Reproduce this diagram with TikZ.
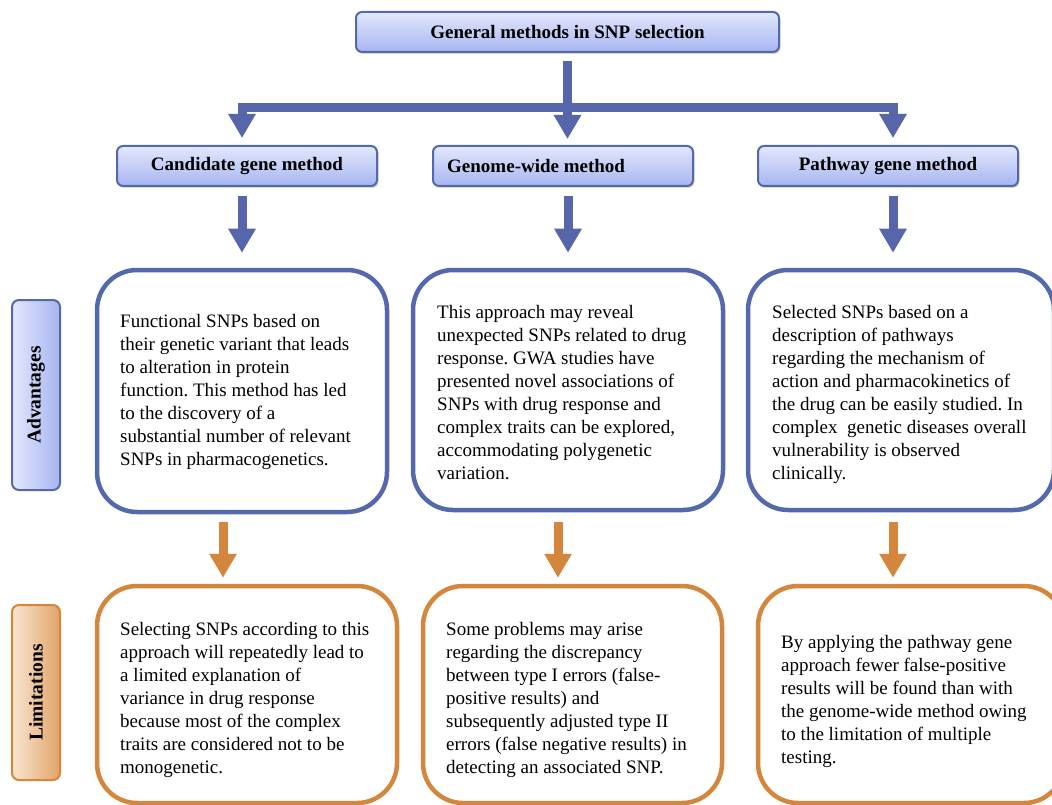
\documentclass[tikz,border=0pt]{standalone}
\usepackage{fontspec}
\setmainfont{Liberation Serif}
\usetikzlibrary{arrows.meta,shadows,calc}
\definecolor{bstroke}{HTML}{5468AE}
\definecolor{barrowc}{HTML}{5766AA}
\definecolor{btop}{HTML}{E3E8FD}
\definecolor{bbot}{HTML}{A7B5F0}
\definecolor{ostroke}{HTML}{D4873C}
\definecolor{oleft}{HTML}{FAE6D2}
\definecolor{oright}{HTML}{E0A367}
\frenchspacing
\begin{document}
\begin{tikzpicture}[x=1pt,y=1pt,
  mbox/.style={draw=bstroke, line width=2, rounded corners=6, top color=btop, bottom color=bbot,
    minimum height=40, inner sep=0, font=\fontsize{19}{23}\selectfont\bfseries,
    drop shadow={shadow xshift=1.5pt, shadow yshift=-2pt, opacity=0.3}},
  advbox/.style={draw=bstroke, line width=4.5, rounded corners=40, fill=white, inner sep=0},
  limbox/.style={draw=ostroke, line width=4.5, rounded corners=40, fill=white, inner sep=0},
  sidebox/.style={line width=2, rounded corners=7, minimum width=48, inner sep=0},
  sidelabel/.style={rotate=90, inner sep=0, font=\fontsize{19.5}{23}\selectfont\bfseries},
  body/.style={anchor=north west, inner sep=0, align=left, font=\fontsize{19}{23.1}\selectfont\frenchspacing},
  barrow/.style={draw=barrowc, line width=9, line join=miter, -{Triangle[width=26pt,length=24pt]}},
  oarrow/.style={draw=ostroke, line width=9, -{Triangle[width=26pt,length=24pt]}},
]
\useasboundingbox (0,0) rectangle (1052,-805);
\clip (0,0) rectangle (1052,-805);
\fill[white] (0,0) rectangle (1052,-805);

% method boxes
\node[mbox, minimum width=423] (title) at (567.5,-32) {General methods in SNP selection};
\node[mbox, minimum width=260] (cand) at (247,-166) {Candidate gene method};
\node[mbox, minimum width=260] (gen) at (563,-166) {};
\node[anchor=west, inner sep=0, font=\fontsize{19}{23}\selectfont\bfseries] (gentext) at (447,-166) {Genome-wide method};
\node[mbox, minimum width=260] (path) at (888,-166) {Pathway gene method};

% advantage boxes
\node[advbox, minimum width=290, minimum height=242] (adv1) at (242,-391) {};
\node[advbox, minimum width=310, minimum height=240] (adv2) at (568,-390) {};
\node[advbox, minimum width=306, minimum height=240] (adv3) at (901,-390) {};

% limitation boxes
\node[limbox, minimum width=300, minimum height=217] (lim1) at (247,-694.5) {};
\node[limbox, minimum width=299, minimum height=217] (lim2) at (572.5,-694.5) {};
\node[limbox, minimum width=306, minimum height=217] (lim3) at (911,-694.5) {};

% side labels
\node[sidebox, draw=bstroke, left color=btop, right color=bbot, minimum height=190] (advside) at (36,-395) {};
\node[sidelabel] (advlbl) at (advside) {Advantages};
\node[sidebox, draw=ostroke, left color=oleft, right color=oright, minimum height=175] (limside) at (36,-692.5) {};
\node[sidelabel] (limlbl) at (limside) {Limitations};

% texts
\node[body] (t1) at (120,-312) {\rule{0pt}{15pt}Functional SNPs based on\\their genetic variant that leads\\to alteration in protein\\function. This method has led\\to the discovery of a\\substantial number of relevant\\SNPs in pharmacogenetics.};
\node[body] (t2) at (437,-303) {\rule{0pt}{15pt}This approach may reveal\\unexpected SNPs related to drug\\response. GWA studies have\\presented novel associations of\\SNPs with drug response and\\complex traits can be explored,\\accommodating polygenetic\\variation.};
\node[body] (t3) at (772,-303) {\rule{0pt}{15pt}Selected SNPs based on a\\description of pathways\\regarding the mechanism of\\action and pharmacokinetics of\\the drug can be easily studied. In\\complex\ \ genetic diseases overall\\vulnerability is observed\\clinically.};
\node[body] (t4) at (120,-620) {\rule{0pt}{15pt}Selecting SNPs according to this\\approach will repeatedly lead to\\a limited explanation of\\variance in drug response\\because most of the complex\\traits are considered not to be\\monogenetic.};
\node[body] (t5) at (446,-620) {\rule{0pt}{15pt}Some problems may arise\\regarding the discrepancy\\between type I errors (false-\\positive results) and\\subsequently adjusted type II\\errors (false negative results) in\\detecting an associated SNP.};
\node[body] (t6) at (781,-633) {\rule{0pt}{15pt}By applying the pathway gene\\approach fewer false-positive\\results will be found than with\\the genome-wide method owing\\to the limitation of multiple\\testing.};

% blue connectors
\coordinate (jc) at (567.5,-108);
\draw[barrow] (jc) -| ([xshift=-5,yshift=7]cand.north);
\draw[barrow] (jc) -| ([xshift=5,yshift=7]path.north);
\draw[barrow] ([yshift=-8]title.south) -- ([yshift=6]title.south |- gen.north);
\draw[barrow] ([xshift=-5,yshift=-9]cand.south) -- ([yshift=15]adv1.north);
\draw[barrow] ([xshift=5,yshift=-9]gen.south) -- ([yshift=15]adv2.north);
\draw[barrow] ([xshift=5,yshift=-9]path.south) -- ([xshift=-8,yshift=15]adv3.north);

% orange connectors
\draw[oarrow] ([xshift=-19,yshift=-8]adv1.south) -- ([xshift=-24,yshift=6]lim1.north);
\draw[oarrow] ([xshift=-10,yshift=-10]adv2.south) -- ([xshift=-14.5,yshift=6]lim2.north);
\draw[oarrow] ([xshift=-8,yshift=-10]adv3.south) -- ([xshift=-18,yshift=6]lim3.north);
\end{tikzpicture}
\end{document}
